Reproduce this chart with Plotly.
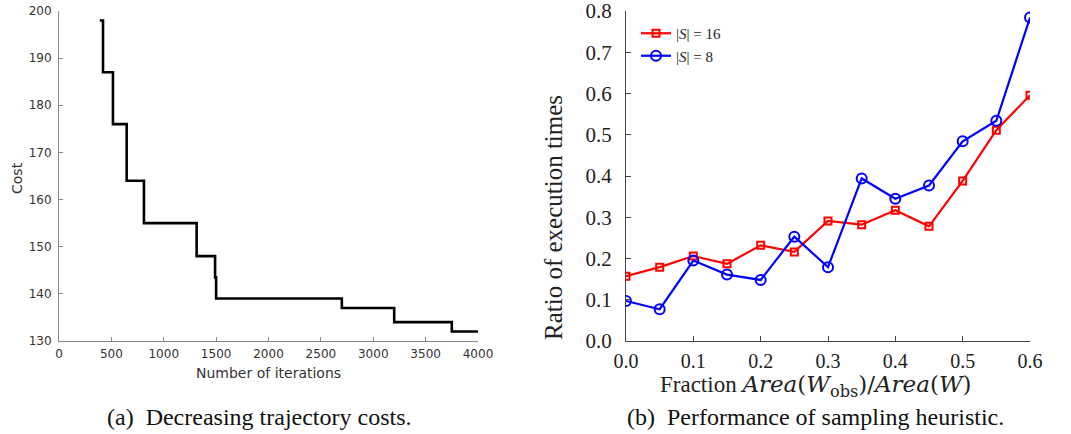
import plotly.graph_objects as go

# Left panel: decreasing trajectory cost (step curve)
iterations = [390, 420, 515, 646, 811, 1314, 1490, 1500, 2700, 3200, 3750, 4000]
costs = [198, 187, 176, 164, 155, 148, 143.5, 139, 137, 134, 132, 132]

# Right panel: ratio of execution times
fraction = [0.0, 0.05, 0.1, 0.15, 0.2, 0.25, 0.3, 0.35, 0.4, 0.45, 0.5, 0.55, 0.6]
ratio_s16 = [0.157, 0.179, 0.206, 0.187, 0.232, 0.216, 0.291, 0.282, 0.317, 0.278, 0.388, 0.511, 0.596]
ratio_s8 = [0.097, 0.077, 0.195, 0.161, 0.148, 0.253, 0.179, 0.394, 0.345, 0.377, 0.484, 0.534, 0.784]

left_xticks = [0, 500, 1000, 1500, 2000, 2500, 3000, 3500, 4000]
left_yticks = [130, 140, 150, 160, 170, 180, 190, 200]
right_xticks = [0.0, 0.1, 0.2, 0.3, 0.4, 0.5, 0.6]
right_yticks = [0.0, 0.1, 0.2, 0.3, 0.4, 0.5, 0.6, 0.7, 0.8]

W, H = 1071, 434
def px(x): return x / W
def py(y): return 1 - y / H

fig = go.Figure()
fig.add_trace(go.Scatter(x=iterations, y=costs, mode="lines", line=dict(color="black", width=2.6, shape="hv"),
                         showlegend=False, xaxis="x", yaxis="y"))
fig.add_trace(go.Scatter(x=fraction, y=ratio_s16, mode="lines+markers", name="|<i>S</i>| = 16",
                         line=dict(color="#ff0000", width=2.2),
                         marker=dict(symbol="square-open", size=7, color="#ff0000", line=dict(width=2)),
                         xaxis="x2", yaxis="y2"))
fig.add_trace(go.Scatter(x=fraction, y=ratio_s8, mode="lines+markers", name="|<i>S</i>| = 8",
                         line=dict(color="#0000ff", width=2.2),
                         marker=dict(symbol="circle-open", size=10, color="#0000ff", line=dict(width=2)),
                         xaxis="x2", yaxis="y2"))

sans = "DejaVu Sans"
serif = "Liberation Serif"

common = dict(showgrid=False, zeroline=False, automargin=False, ticks="inside", ticklabeloverflow="allow")

fig.update_layout(
    width=W, height=H, margin=dict(l=0, r=0, t=0, b=0, autoexpand=False),
    paper_bgcolor="white", plot_bgcolor="white",
    xaxis=dict(domain=[px(59), px(478)], range=[0, 4000], tickvals=left_xticks,
               showline=True, linecolor="#888", linewidth=1, ticklen=4, tickcolor="#888",
               tickfont=dict(family=sans, size=12, color="#333"),
               ticklabelstandoff=2, anchor="y", **common),
    yaxis=dict(domain=[py(341), py(11)], range=[130, 200], tickvals=left_yticks,
               showline=True, linecolor="#888", linewidth=1, ticklen=4, tickcolor="#888",
               tickfont=dict(family=sans, size=12, color="#333"),
               ticklabelstandoff=4, anchor="x", **common),
    xaxis2=dict(domain=[px(626), px(1030)], range=[0, 0.6], tickvals=right_xticks,
                ticktext=["0.0", "0.1", "0.2", "0.3", "0.4", "0.5", "0.6"],
                showline=True, linecolor="#444", linewidth=1.2, ticklen=5, tickcolor="#444",
                tickfont=dict(family=serif, size=20, color="#222"),
                ticklabelstandoff=2, anchor="y2", **common),
    yaxis2=dict(domain=[py(341), py(11)], range=[0, 0.8], tickvals=right_yticks,
                ticktext=["0.0", "0.1", "0.2", "0.3", "0.4", "0.5", "0.6", "0.7", "0.8"],
                showline=True, linecolor="#444", linewidth=1.2, ticklen=5, tickcolor="#444",
                tickfont=dict(family=serif, size=21, color="#222"),
                ticklabelstandoff=9, anchor="x2", **common),
    legend=dict(x=px(636), y=py(17), xanchor="left", yanchor="top", bgcolor="rgba(0,0,0,0)",
                font=dict(family=serif, size=15, color="#222"), tracegroupgap=0),
)

xtitle = ("Fraction <span style='font-family:DejaVu Serif'><i>Area</i>(<i>W</i><sub>obs</sub>)/"
          "<i>Area</i>(<i>W</i>)</span>")

annos = [
    dict(text="Cost", x=px(17), y=py(178), textangle=-90, font=dict(family=sans, size=14, color="#333")),
    dict(text="Number of iterations", x=px(268), y=py(373), font=dict(family=sans, size=14, color="#333")),
    dict(text="Ratio of execution times", x=px(553), y=py(218), textangle=-90,
         font=dict(family=serif, size=25, color="#222")),
    dict(text=xtitle, x=px(816), y=py(386),
         font=dict(family=serif, size=23, color="#222")),
    dict(text="(a)  Decreasing trajectory costs.", x=px(259), y=py(417),
         font=dict(family=serif, size=24, color="#111")),
    dict(text="(b)  Performance of sampling heuristic.", x=px(815), y=py(417),
         font=dict(family=serif, size=24, color="#111")),
]
for a in annos:
    fig.add_annotation(xref="paper", yref="paper", showarrow=False, xanchor="center", yanchor="middle", **a)

fig.write_html("out.html", config={"displayModeBar": False},
               post_script="document.body.style.margin='0';document.body.style.overflow='hidden';")
